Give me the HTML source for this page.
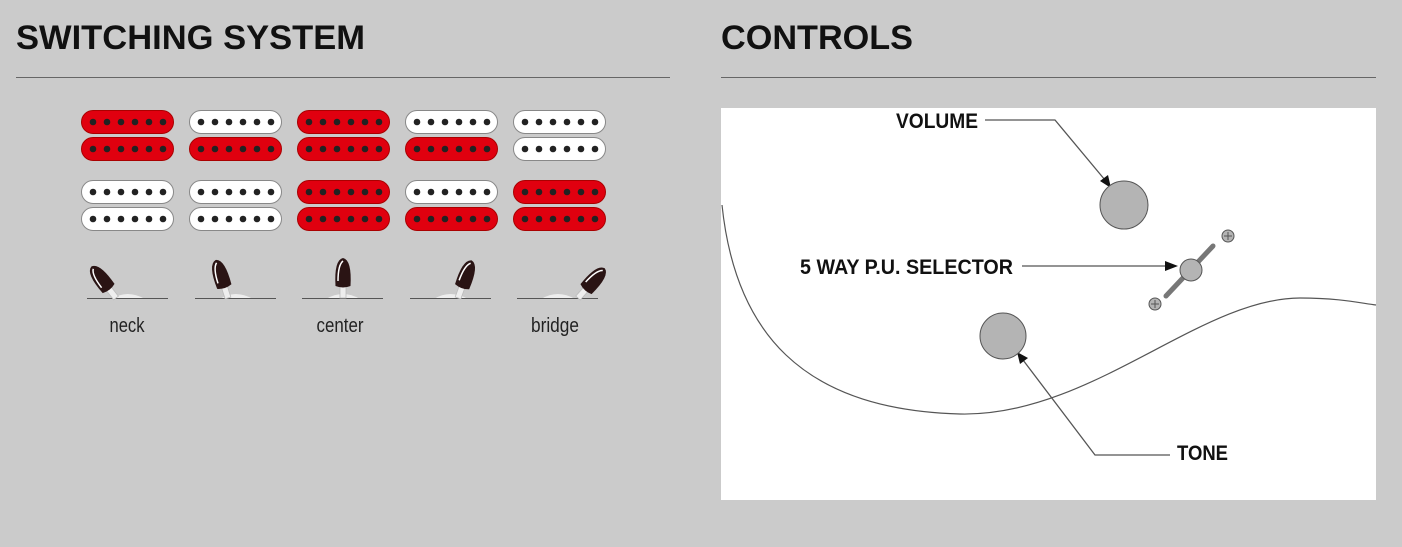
<!DOCTYPE html>
<html><head><style>
body{margin:0;background:#cbcbcb;width:1402px;height:542px;overflow:hidden;font-family:"Liberation Sans",sans-serif}
</style></head><body>
<svg width="1402" height="542" xmlns="http://www.w3.org/2000/svg">
<defs>
<g id="dots" fill="#222"><circle cx="12" cy="12" r="3.3"/><circle cx="26" cy="12" r="3.3"/><circle cx="40" cy="12" r="3.3"/><circle cx="54" cy="12" r="3.3"/><circle cx="68" cy="12" r="3.3"/><circle cx="82" cy="12" r="3.3"/></g>
<g id="r"><rect x="0.5" y="0.5" width="92" height="23" rx="11.5" fill="#e0000f" stroke="#a00" stroke-width="1"/><use href="#dots"/></g>
<g id="w"><rect x="0.5" y="0.5" width="92" height="23" rx="11.5" fill="#fff" stroke="#888" stroke-width="1"/><use href="#dots"/></g>
<g id="lever"><path d="M-3 0 L-3 -14 L3 -14 L3 0Z" fill="#eee" stroke="#bbb" stroke-width="0.8"/><path d="M-7.5 -12 Q-9 -38 0 -40 Q9 -38 7.5 -12 Q0 -9 -7.5 -12Z" fill="#2a1414"/><path d="M-5 -17 Q-5 -33 0 -37" stroke="#fff" stroke-width="1.5" fill="none"/></g>
</defs>
<text x="16" y="49" font-size="34" font-weight="bold" fill="#111" textLength="349" lengthAdjust="spacingAndGlyphs">SWITCHING SYSTEM</text>
<line x1="16" y1="77.5" x2="670" y2="77.5" stroke="#666" stroke-width="1"/>
<text x="721" y="49" font-size="34" font-weight="bold" fill="#111" textLength="192" lengthAdjust="spacingAndGlyphs">CONTROLS</text>
<line x1="721" y1="77.5" x2="1376" y2="77.5" stroke="#666" stroke-width="1"/>

<use href="#r" x="81" y="110"/><use href="#r" x="81" y="137"/>
<use href="#w" x="189" y="110"/><use href="#r" x="189" y="137"/>
<use href="#r" x="297" y="110"/><use href="#r" x="297" y="137"/>
<use href="#w" x="405" y="110"/><use href="#r" x="405" y="137"/>
<use href="#w" x="513" y="110"/><use href="#w" x="513" y="137"/>

<use href="#w" x="81" y="180"/><use href="#w" x="81" y="207"/>
<use href="#w" x="189" y="180"/><use href="#w" x="189" y="207"/>
<use href="#r" x="297" y="180"/><use href="#r" x="297" y="207"/>
<use href="#w" x="405" y="180"/><use href="#r" x="405" y="207"/>
<use href="#r" x="513" y="180"/><use href="#r" x="513" y="207"/>

<g fill="#eee">
<path d="M112 299 Q127 289 145 299Z"/><path d="M220 299 Q235 289 253 299Z"/><path d="M326 299 Q343 289 360 299Z"/><path d="M434 299 Q450 289 468 299Z"/><path d="M541 299 Q558 289 575 299Z"/>
</g>
<g stroke="#555" stroke-width="1">
<line x1="87" y1="298.5" x2="168" y2="298.5"/><line x1="195" y1="298.5" x2="276" y2="298.5"/><line x1="302" y1="298.5" x2="383" y2="298.5"/><line x1="410" y1="298.5" x2="491" y2="298.5"/><line x1="517" y1="298.5" x2="598" y2="298.5"/>
</g>
<use href="#lever" transform="translate(116,298) rotate(-38)"/>
<use href="#lever" transform="translate(228,298) rotate(-18)"/>
<use href="#lever" transform="translate(343,298)"/>
<use href="#lever" transform="translate(458,298) rotate(20)"/>
<use href="#lever" transform="translate(578,298) rotate(42)"/>
<g font-size="20" fill="#222" text-anchor="middle">
<text x="127" y="332" textLength="35" lengthAdjust="spacingAndGlyphs">neck</text><text x="340" y="332" textLength="47" lengthAdjust="spacingAndGlyphs">center</text><text x="555" y="332" textLength="48" lengthAdjust="spacingAndGlyphs">bridge</text>
</g>

<rect x="721" y="108" width="655" height="392" fill="#fff"/>
<path d="M722 205 C735 330 800 410 960 414 C1090 417 1200 298 1300 298 C1340 298 1360 303 1376 305" fill="none" stroke="#555" stroke-width="1.2"/>
<g font-size="21" font-weight="bold" fill="#111">
<text x="896" y="128" textLength="82" lengthAdjust="spacingAndGlyphs">VOLUME</text>
<text x="800" y="274" textLength="213" lengthAdjust="spacingAndGlyphs">5 WAY P.U. SELECTOR</text>
<text x="1177" y="460" textLength="51" lengthAdjust="spacingAndGlyphs">TONE</text>
</g>
<g stroke="#555" stroke-width="1.3" fill="none">
<polyline points="985,120 1055,120 1105,180"/>
<line x1="1022" y1="266" x2="1165" y2="266"/>
<polyline points="1170,455 1095,455 1023,360"/>
</g>
<g fill="#111">
<polygon points="1111,188 1100,181 1108,175"/>
<polygon points="1178,266 1165,261 1165,271"/>
<polygon points="1017,352 1020,364 1028,358"/>
</g>
<g fill="#b4b4b4" stroke="#555" stroke-width="1">
<circle cx="1124" cy="205" r="24"/>
<circle cx="1003" cy="336" r="23"/>
<path d="M1166 296 L1213 246" stroke="#777" stroke-width="5" stroke-linecap="round"/>
<circle cx="1191" cy="270" r="11"/>
<circle cx="1228" cy="236" r="6"/>
<circle cx="1155" cy="304" r="6"/>
</g>
<g stroke="#555" stroke-width="1"><path d="M1224 236h8M1228 232v8M1151 304h8M1155 300v8"/></g>
</svg>
</body></html>
